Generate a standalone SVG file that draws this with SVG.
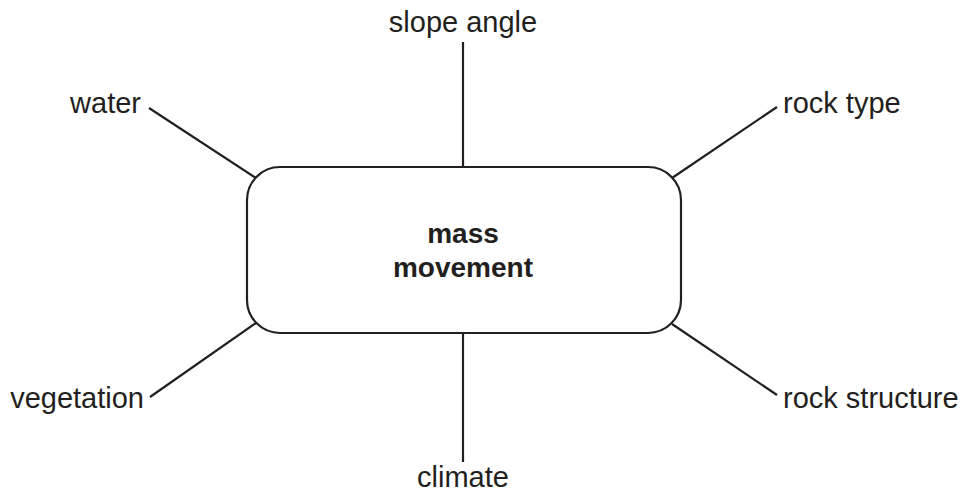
<svg xmlns="http://www.w3.org/2000/svg" width="963" height="493" viewBox="0 0 963 493">
<style>
text{font-family:"Liberation Sans",Arial,sans-serif;fill:#231f20;font-size:29px}
.b{font-weight:bold;font-size:28px}
line{stroke:#231f20;stroke-width:2.2}
.box{fill:#fff;stroke:#231f20;stroke-width:2.2}
</style>
<rect width="963" height="493" fill="#fff"/>
<g id="connectors">
<line x1="463" y1="42" x2="463" y2="167"/>
<line x1="463" y1="333" x2="463" y2="462"/>
<line x1="149" y1="108" x2="256" y2="178"/>
<line x1="777" y1="107" x2="672" y2="178"/>
<line x1="150" y1="397" x2="256" y2="323"/>
<line x1="777" y1="395" x2="672" y2="324"/>
</g>
<g id="center">
<rect class="box" x="247" y="167" width="434" height="166" rx="33" ry="33"/>
<text class="b" x="463" y="243" text-anchor="middle">mass</text>
<text class="b" x="463" y="277" text-anchor="middle">movement</text>
</g>
<g id="slope"><text x="463" y="32" text-anchor="middle">slope angle</text></g>
<g id="climate"><text x="463" y="487" text-anchor="middle">climate</text></g>
<g id="water"><text x="141" y="113" text-anchor="end">water</text></g>
<g id="rocktype"><text x="783" y="113">rock type</text></g>
<g id="vegetation"><text x="144" y="408" text-anchor="end">vegetation</text></g>
<g id="rockstructure"><text x="783" y="408">rock structure</text></g>
</svg>
